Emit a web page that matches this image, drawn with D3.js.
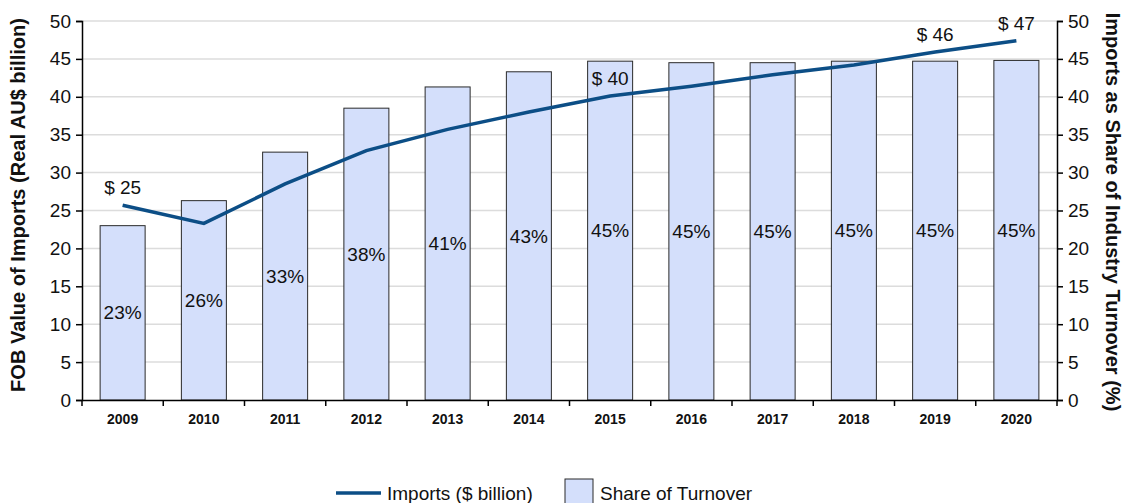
<!DOCTYPE html>
<html>
<head>
<meta charset="utf-8">
<script src="https://cdn.jsdelivr.net/npm/d3@7"></script>
<style>
  body { margin: 0; background: #fff; }
  svg text { font-family: "Liberation Sans", Arial, sans-serif; fill: #111; }
</style>
</head>
<body>
<div id="chart"></div>
<script>
// Datos del gráfico
const years = ["2009", "2010", "2011", "2012", "2013", "2014", "2015", "2016", "2017", "2018", "2019", "2020"];
const imports = [25.7, 23.3, 28.5, 32.9, 35.7, 38.0, 40.1, 41.4, 42.9, 44.2, 45.9, 47.4];
const shareOfTurnover = [23.0, 26.3, 32.7, 38.5, 41.3, 43.3, 44.7, 44.5, 44.5, 44.7, 44.7, 44.8];
const shareLabels = ["23%", "26%", "33%", "38%", "41%", "43%", "45%", "45%", "45%", "45%", "45%", "45%"];
const importLabels = ["$ 25", "", "", "", "", "", "$ 40", "", "", "", "$ 46", "$ 47"];
const yTicks = [0, 5, 10, 15, 20, 25, 30, 35, 40, 45, 50];

const W = 1126, H = 503;
const margin = {top: 21, right: 69, bottom: 103, left: 82};
const width = W - margin.left - margin.right;
const height = H - margin.top - margin.bottom;

const svg = d3.select("#chart").append("svg")
    .attr("width", W)
    .attr("height", H);

const g = svg.append("g")
    .attr("transform", `translate(${margin.left},${margin.top})`);

// Escalas
const xc = d3.scaleBand().domain(years).range([0, width]);
const yLeft = d3.scaleLinear().domain([0, 50]).range([height, 0]);
const yRight = d3.scaleLinear().domain([0, 50]).range([height, 0]);

// Cuadrícula
g.selectAll("line.grid")
    .data(yTicks.slice(1))
    .enter()
    .append("line")
    .attr("class", "grid")
    .attr("x1", 0)
    .attr("x2", width)
    .attr("y1", d => yLeft(d))
    .attr("y2", d => yLeft(d))
    .attr("stroke", "#dcdcdc")
    .attr("stroke-width", 1.5);

// Barras
g.selectAll(".bar")
    .data(shareOfTurnover)
    .enter()
    .append("rect")
    .attr("class", "bar")
    .attr("x", (d, i) => xc(years[i]) + xc.bandwidth() / 2 - 22.5)
    .attr("width", 45)
    .attr("y", d => yRight(d))
    .attr("height", d => height - yRight(d))
    .attr("fill", "#d4dffb")
    .attr("stroke", "#2a2a2a")
    .attr("stroke-width", 1);

// Etiquetas de porcentaje
g.selectAll(".bar-label")
    .data(shareOfTurnover)
    .enter()
    .append("text")
    .attr("x", (d, i) => xc(years[i]) + xc.bandwidth() / 2)
    .attr("y", d => (yRight(d) + height) / 2)
    .attr("dy", "0.35em")
    .attr("text-anchor", "middle")
    .style("font-size", "19px")
    .text((d, i) => shareLabels[i]);

// Línea de importaciones
const line = d3.line()
    .x((d, i) => xc(years[i]) + xc.bandwidth() / 2)
    .y(d => yLeft(d));

g.append("path")
    .datum(imports)
    .attr("d", line)
    .attr("fill", "none")
    .attr("stroke", "#0c4e86")
    .attr("stroke-width", 3.5);

g.selectAll(".imp-label")
    .data(imports)
    .enter()
    .append("text")
    .attr("x", (d, i) => xc(years[i]) + xc.bandwidth() / 2)
    .attr("y", d => yLeft(d) - 11)
    .attr("text-anchor", "middle")
    .style("font-size", "19px")
    .text((d, i) => importLabels[i]);

// Ejes
const axisLeft = g.append("g")
    .call(d3.axisLeft(yLeft).tickValues(yTicks).tickSize(6).tickPadding(5));
axisLeft.selectAll("text").style("font-size", "19px");

const axisRight = g.append("g")
    .attr("transform", `translate(${width},0)`)
    .call(d3.axisRight(yRight).tickValues(yTicks).tickSize(6).tickPadding(5));
axisRight.selectAll("text").style("font-size", "19px");

const axisBottom = g.append("g")
    .attr("transform", `translate(0,${height})`)
    .call(d3.axisBottom(xc).tickSize(0).tickPadding(14));
axisBottom.selectAll("text").style("font-size", "14px").style("font-weight", "bold");

// Marcas en los límites de las bandas
axisBottom.selectAll("line.bound")
    .data(years.concat(["end"]))
    .enter()
    .append("line")
    .attr("class", "bound")
    .attr("x1", (d, i) => i * xc.step())
    .attr("x2", (d, i) => i * xc.step())
    .attr("y1", 0)
    .attr("y2", 6)
    .attr("stroke", "#000");

svg.selectAll(".domain, .tick line").attr("stroke", "#000").attr("stroke-width", 1.5);
svg.selectAll("line.bound").attr("stroke-width", 1.5);

// Títulos de ejes
svg.append("text")
    .attr("transform", `translate(25,205) rotate(-90)`)
    .attr("text-anchor", "middle")
    .style("font-size", "20px")
    .style("font-weight", "bold")
    .text("FOB Value of Imports (Real AU$ billion)");

svg.append("text")
    .attr("transform", `translate(1106,212) rotate(90)`)
    .attr("text-anchor", "middle")
    .style("font-size", "20px")
    .style("font-weight", "bold")
    .text("Imports as Share of Industry Turnover (%)");

// Leyenda
const legend = svg.append("g").attr("transform", "translate(0,493)");
legend.append("line")
    .attr("x1", 336).attr("x2", 381)
    .attr("y1", 0).attr("y2", 0)
    .attr("stroke", "#0c4e86")
    .attr("stroke-width", 3.5);
legend.append("text")
    .attr("x", 387).attr("y", 0).attr("dy", "0.35em")
    .style("font-size", "19px")
    .text("Imports ($ billion)");
legend.append("rect")
    .attr("x", 565).attr("y", -14)
    .attr("width", 28).attr("height", 28)
    .attr("fill", "#d4dffb")
    .attr("stroke", "#2a2a2a");
legend.append("text")
    .attr("x", 600).attr("y", 0).attr("dy", "0.35em")
    .style("font-size", "19px")
    .text("Share of Turnover");
</script>
</body>
</html>
